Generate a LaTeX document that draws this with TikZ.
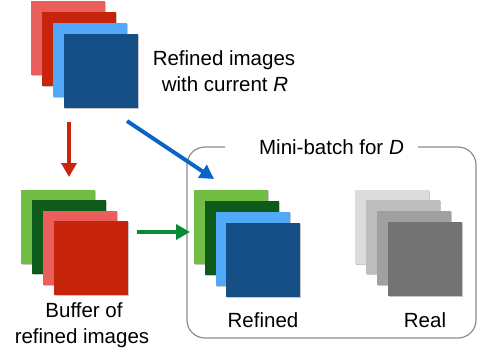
\documentclass[tikz,border=0pt]{standalone}
\usepackage{fontspec}
\setmainfont{Liberation Sans}
\usetikzlibrary{arrows.meta,shadows}
\definecolor{lred}{HTML}{EA5F5B}
\definecolor{dred}{HTML}{C6250B}
\definecolor{lblue}{HTML}{52A9F7}
\definecolor{dblue}{HTML}{164F86}
\definecolor{lgreen}{HTML}{72BE44}
\definecolor{dgreen}{HTML}{0D5A1B}
\definecolor{gA}{HTML}{DBDCDE}
\definecolor{gB}{HTML}{BEBEBE}
\definecolor{gC}{HTML}{A0A0A0}
\definecolor{gD}{HTML}{737373}
\definecolor{redarrow}{HTML}{C8250A}
\definecolor{bluearrow}{HTML}{0A64C4}
\definecolor{greenarrow}{HTML}{098A36}
\definecolor{boxline}{HTML}{8C8C8C}
\tikzset{
  sq/.style={rectangle, minimum size=74pt, inner sep=0pt, draw=none,
    drop shadow={shadow xshift=1.2pt, shadow yshift=-1.2pt, opacity=0.22, fill=black}},
  lbl/.style={anchor=base, inner sep=0pt, font=\fontsize{20.5}{26}\selectfont},
  arr/.style={line width=4pt, -{Triangle[length=14pt,width=15pt]}},
  boxborder/.style={draw=boxline, line width=1.2pt, rounded corners=18pt}
}
\begin{document}
\begin{tikzpicture}[x=1pt,y=-1pt]
\useasboundingbox (0,0) rectangle (477,354);
% top stack
\node[sq, fill=lred]  (t1) at (68,38) {};
\node[sq, fill=dred]  (t2) at (79,49) {};
\node[sq, fill=lblue] (t3) at (90,60) {};
\node[sq, fill=dblue] (t4) at (101,71) {};
\node[lbl] (tl1) at (224,65) {Refined images};
\node[lbl] (tl2) at (225,91) {with current \textit{R}};
% buffer stack
\node[sq, fill=lgreen] (b1) at (58,226.5) {};
\node[sq, fill=dgreen] (b2) at (69,237) {};
\node[sq, fill=lred]   (b3) at (80,247.5) {};
\node[sq, fill=dred]   (b4) at (91,258) {};
\node[lbl] (bl1) at (84,317) {Buffer of};
\node[lbl] (bl2) at (82,343) {refined images};
% mini-batch box
\draw[boxborder] (225,147) -- (187,147) -- (187,338) -- (476,338) -- (476,147) -- (418,147);
\node[lbl] (mt) at (331.5,154) {Mini-batch for \textit{D}};
% refined stack
\node[sq, fill=lgreen] (r1) at (231,226.5) {};
\node[sq, fill=dgreen] (r2) at (242,237.5) {};
\node[sq, fill=lblue]  (r3) at (252.5,248.5) {};
\node[sq, fill=dblue]  (r4) at (263,259.5) {};
\node[lbl] (rl) at (263,327) {Refined};
% real stack
\node[sq, fill=gA] (g1) at (391.5,226.5) {};
\node[sq, fill=gB] (g2) at (403,237) {};
\node[sq, fill=gC] (g3) at (414,248) {};
\node[sq, fill=gD] (g4) at (425,259) {};
\node[lbl] (gl) at (425,327) {Real};
% arrows
\coordinate (ra1) at (69,122);
\coordinate (ra2) at (69,177);
\coordinate (ba1) at (127,121);
\coordinate (ba2) at (214,179);
\coordinate (ga1) at (137,232);
\coordinate (ga2) at (190,232);
\draw[arr, draw=redarrow, fill=redarrow] (ra1) -- (ra2);
\draw[arr, draw=bluearrow, fill=bluearrow] (ba1) -- (ba2);
\draw[arr, draw=greenarrow, fill=greenarrow] (ga1) -- (ga2);
\end{tikzpicture}
\end{document}
